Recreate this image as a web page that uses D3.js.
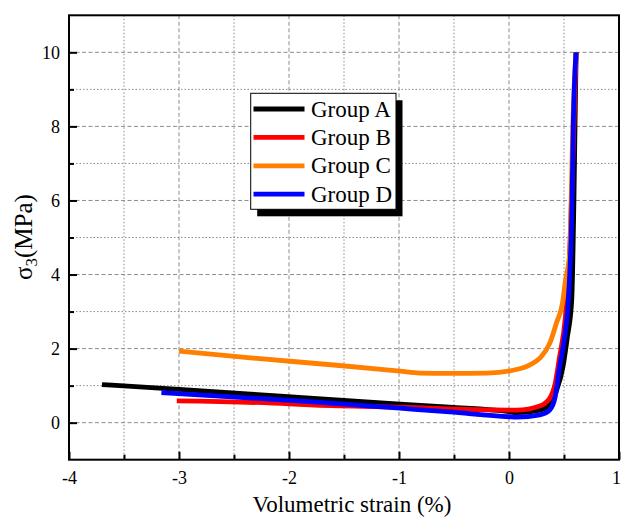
<!DOCTYPE html>
<html>
<head>
<meta charset="utf-8">
<script src="https://cdn.jsdelivr.net/npm/d3@7"></script>
<style>
  html, body { margin: 0; padding: 0; background: #fff; }
  svg { display: block; }
  text { font-family: "Liberation Serif", "Times New Roman", serif; fill: #000; }
</style>
</head>
<body>
<svg id="chart" width="621" height="518"></svg>
<script>
// ---- data ----
const seriesNames = ["Group A", "Group B", "Group C", "Group D"];
const seriesColors = ["#000000", "#ff0000", "#ff8000", "#0000ff"];

const groupA_x = [-3.70, -3.00, -2.35, -1.81, -0.99, -0.54, 0.00, 0.07, 0.28, 0.37, 0.43, 0.49, 0.53, 0.57, 0.59, 0.60, 0.61];
const groupA_y = [1.03, 0.90, 0.77, 0.66, 0.50, 0.42, 0.30, 0.27, 0.34, 0.48, 0.85, 1.50, 2.30, 3.30, 6.00, 8.00, 10.0];

const groupB_x = [-3.02, -2.00, -1.81, -0.99, -0.54, 0.00, 0.07, 0.28, 0.37, 0.42, 0.46, 0.51, 0.55, 0.58, 0.61];
const groupB_y = [0.59, 0.51, 0.48, 0.42, 0.37, 0.34, 0.34, 0.45, 0.66, 1.06, 1.78, 2.77, 4.50, 7.00, 10.0];

const groupC_x = [-3.00, -2.35, -1.49, -0.99, -0.81, -0.54, -0.20, 0.01, 0.19, 0.28, 0.37, 0.43, 0.49, 0.51, 0.555, 0.565, 0.58, 0.61];
const groupC_y = [1.93, 1.75, 1.53, 1.39, 1.34, 1.33, 1.34, 1.40, 1.56, 1.74, 2.14, 2.68, 3.30, 3.77, 4.66, 6.00, 8.00, 10.0];

const groupD_x = [-3.16, -1.81, -0.99, -0.54, 0.00, 0.07, 0.28, 0.37, 0.42, 0.46, 0.51, 0.54, 0.573, 0.585, 0.61];
const groupD_y = [0.81, 0.57, 0.39, 0.29, 0.16, 0.15, 0.21, 0.34, 0.70, 1.51, 2.41, 3.31, 6.00, 8.10, 10.0];

const xMajorTicks = [-4, -3, -2, -1, 0, 1];
const xMinorTicks = [-3.5, -2.5, -1.5, -0.5, 0.5];
const yMajorTicks = [0, 2, 4, 6, 8, 10];
const yMinorTicks = [1, 3, 5, 7, 9];

const xLabel = "Volumetric strain (%)";

// ---- layout ----
const svg = d3.select("#chart");
const L = 69, R = 619, T = 15.3, B = 459.7;
const x = d3.scaleLinear().domain([-4, 1]).range([L, R]);
const y = d3.scaleLinear().domain([-1, 11]).range([B, T]);

// grid
const grid = svg.append("g").attr("stroke", "#8c8c8c").attr("stroke-width", 1).attr("fill", "none");
xMajorTicks.filter(v => v > -4 && v < 1).forEach(v => {
  grid.append("line").attr("x1", x(v)).attr("x2", x(v)).attr("y1", T).attr("y2", B)
    .attr("stroke-dasharray", "4,2.5");
});
xMinorTicks.forEach(v => {
  grid.append("line").attr("x1", x(v)).attr("x2", x(v)).attr("y1", T).attr("y2", B)
    .attr("stroke-dasharray", "1.5,2");
});
yMajorTicks.forEach(v => {
  grid.append("line").attr("x1", L).attr("x2", R).attr("y1", y(v)).attr("y2", y(v))
    .attr("stroke-dasharray", "4,2.5");
});
yMinorTicks.forEach(v => {
  grid.append("line").attr("x1", L).attr("x2", R).attr("y1", y(v)).attr("y2", y(v))
    .attr("stroke-dasharray", "1.5,2");
});

// series
const series = [
  {name: seriesNames[0], color: seriesColors[0], xs: groupA_x, ys: groupA_y},
  {name: seriesNames[1], color: seriesColors[1], xs: groupB_x, ys: groupB_y},
  {name: seriesNames[2], color: seriesColors[2], xs: groupC_x, ys: groupC_y},
  {name: seriesNames[3], color: seriesColors[3], xs: groupD_x, ys: groupD_y}
];
const line = d3.line().x(d => x(d[0])).y(d => y(d[1])).curve(d3.curveMonotoneX);
const plot = svg.append("g");
series.forEach(s => {
  const pts = s.xs.map((v, i) => [v, s.ys[i]]);
  plot.append("path").datum(pts).attr("d", line)
    .attr("fill", "none").attr("stroke", s.color).attr("stroke-width", 4.8)
    .attr("stroke-linejoin", "round");
});

// axes
const fs = 18;
const xAxis = svg.append("g").attr("transform", `translate(0,${B})`)
  .call(d3.axisBottom(x).tickValues(xMajorTicks).tickSizeInner(-8).tickSizeOuter(0).tickPadding(12).tickFormat(d3.format("d")));
const xAxisMinor = svg.append("g").attr("transform", `translate(0,${B})`)
  .call(d3.axisBottom(x).tickValues(xMinorTicks).tickSizeInner(-5).tickSizeOuter(0).tickFormat(""));
const yAxis = svg.append("g").attr("transform", `translate(${L},0)`)
  .call(d3.axisLeft(y).tickValues(yMajorTicks).tickSizeInner(-8).tickSizeOuter(0).tickPadding(9).tickFormat(d3.format("d")));
const yAxisMinor = svg.append("g").attr("transform", `translate(${L},0)`)
  .call(d3.axisLeft(y).tickValues(yMinorTicks).tickSizeInner(-5).tickSizeOuter(0).tickFormat(""));

[xAxis, xAxisMinor, yAxis, yAxisMinor].forEach(g => {
  g.select(".domain").remove();
  g.selectAll(".tick line").attr("stroke", "#000").attr("stroke-width", 2);
  g.selectAll(".tick text").attr("font-family", "Liberation Serif").attr("font-size", fs).attr("fill", "#000");
});
xAxis.selectAll(".tick text").text(d => String(d).replace("\u2212", "-"))
  .attr("dx", d => d === 1 ? -3 : 0);

// frame
svg.append("rect").attr("x", L).attr("y", T).attr("width", R - L).attr("height", B - T)
  .attr("fill", "none").attr("stroke", "#000").attr("stroke-width", 2);

// axis titles
svg.append("text").attr("x", 352).attr("y", 512).attr("text-anchor", "middle")
  .attr("font-size", 23).text(xLabel);

const yt = svg.append("text").attr("transform", "translate(32,237) rotate(-90)")
  .attr("text-anchor", "middle").attr("font-size", 25);
yt.append("tspan").text("σ");
yt.append("tspan").attr("font-size", 17).attr("dy", 5).text("3");
yt.append("tspan").attr("dy", -5).text("(MPa)");

// legend
const lg = svg.append("g");
const lx = 250.7, ly = 93.3, lw = 145.3, lh = 116;
lg.append("rect").attr("x", lx + 6.5).attr("y", ly + 7).attr("width", lw).attr("height", lh).attr("fill", "#000");
lg.append("rect").attr("x", lx).attr("y", ly).attr("width", lw).attr("height", lh)
  .attr("fill", "#fff").attr("stroke", "#000").attr("stroke-width", 1);
series.forEach((s, i) => {
  const ry = 109 + i * 28.4;
  lg.append("line").attr("x1", 253.5).attr("x2", 304.5).attr("y1", ry).attr("y2", ry)
    .attr("stroke", s.color).attr("stroke-width", 4.8);
  lg.append("text").attr("x", 311).attr("y", ry + 7.5).attr("font-size", 23).text(s.name);
});
</script>
</body>
</html>
